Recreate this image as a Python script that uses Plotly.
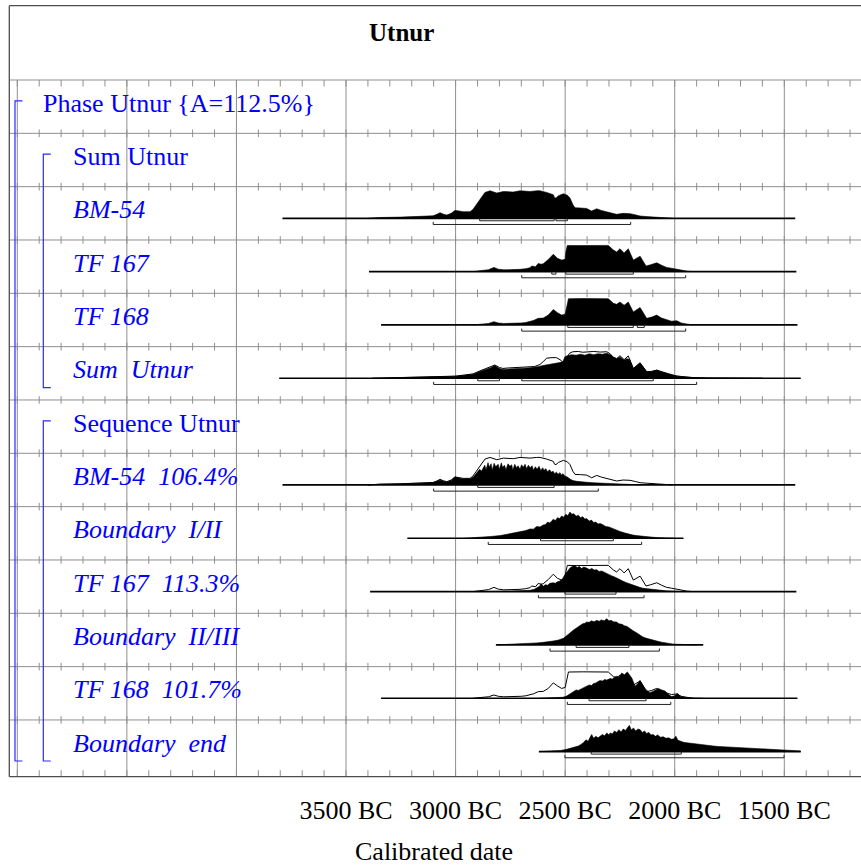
import plotly.graph_objects as go

# ------------------------------------------------------------------ data
TITLE = "Utnur"
X_TITLE = "Calibrated date"
TICK_YEARS = [-3500, -3000, -2500, -2000, -1500]
TICK_TEXT = ["3500 BC", "3000 BC", "2500 BC", "2000 BC", "1500 BC"]

ROW_LABELS = [
    "Phase Utnur {A=112.5%}",
    "Sum Utnur",
    "BM-54",
    "TF 167",
    "TF 168",
    "Sum  Utnur",
    "Sequence Utnur",
    "BM-54  106.4%",
    "Boundary  I/II",
    "TF 167  113.3%",
    "Boundary  II/III",
    "TF 168  101.7%",
    "Boundary  end",
]
ROW_ITALIC = [False, False, True, True, True, True, False,
              True, True, True, True, True, True]
ROW_INDENT = [0, 1, 1, 1, 1, 1, 1, 1, 1, 1, 1, 1, 1]

# nested model structure: (first row, last row, depth)
GROUPS = [(0, 12, 0), (1, 5, 1), (6, 12, 1)]

# probability curves: (calendar year, relative probability), BC as negative years
bm54_like = [
    (-3400, 0), (-3345, 0.8), (-3250, 1.2), (-3180, 1.6), (-3140, 1.8), (-3103, 2.5),
    (-3085, 4), (-3071, 5.7), (-3055, 4.2), (-3040, 3.3), (-3020, 5), (-3003, 8),
    (-2985, 7.5), (-2966, 6.7), (-2934, 6.7), (-2921, 9), (-2905, 14), (-2889, 19),
    (-2875, 23), (-2866, 26.3), (-2843, 28), (-2812, 25.7), (-2782, 27.3), (-2737, 26.7),
    (-2706, 28), (-2660, 27.3), (-2630, 28), (-2615, 28), (-2584, 26.3), (-2560, 25),
    (-2554, 24), (-2548, 21), (-2542, 20.7), (-2530, 23), (-2508, 25), (-2490, 23.5),
    (-2478, 20.7), (-2465, 14), (-2455, 10.7), (-2430, 10.5), (-2402, 10), (-2379, 7.3),
    (-2356, 9.7), (-2335, 8), (-2310, 6.7), (-2288, 5.2), (-2265, 4), (-2236, 5),
    (-2220, 4.8), (-2204, 4.7), (-2180, 3.5), (-2158, 2.3), (-2130, 1.8), (-2099, 1.3),
    (-2070, 0.8), (-2037, 0.3), (-2010, 0),
]
tf167_like = [
    (-2920, 0), (-2880, 0.8), (-2850, 2), (-2825, 4.3), (-2805, 2.5), (-2780, 1.8),
    (-2750, 2), (-2720, 1.8), (-2706, 2.3), (-2680, 3), (-2660, 4), (-2653, 5.7),
    (-2635, 5), (-2623, 8.3), (-2610, 7.5), (-2600, 8), (-2577, 12.3), (-2554, 17.7),
    (-2535, 13.5), (-2516, 11.7), (-2500, 12.5), (-2497, 20), (-2490, 26.7), (-2450, 26.5),
    (-2400, 26.7), (-2350, 26.3), (-2303, 26.7), (-2280, 22), (-2265, 20), (-2250, 23.3),
    (-2231, 19), (-2212, 23.3), (-2189, 11.7), (-2158, 15.7), (-2131, 5.7), (-2110, 7),
    (-2082, 9), (-2060, 6.5), (-2037, 4.3), (-2015, 3.5), (-1991, 2.3), (-1965, 1.2),
    (-1945, 0.5), (-1920, 0),
]
tf168_like = [
    (-2920, 0), (-2880, 0.5), (-2850, 1.5), (-2825, 3.3), (-2805, 2), (-2780, 1.5),
    (-2750, 1.6), (-2720, 1.5), (-2700, 2), (-2680, 2.5), (-2660, 3.3), (-2645, 4.5),
    (-2623, 6.7), (-2600, 7), (-2577, 10), (-2554, 15.7), (-2535, 12.5), (-2516, 10),
    (-2500, 11), (-2493, 20), (-2485, 26.7), (-2420, 26.9), (-2360, 26.7), (-2303, 26.7),
    (-2280, 22), (-2265, 21), (-2250, 23.3), (-2231, 20), (-2212, 23.3), (-2189, 13.3),
    (-2158, 17.7), (-2128, 6.7), (-2105, 8), (-2082, 10), (-2060, 7), (-2037, 5),
    (-2015, 3.8), (-1991, 4.3), (-1970, 2), (-1945, 1), (-1920, 0),
]
sum_like = [
    (-3380, 0), (-3300, 0.4), (-3200, 0.6), (-3100, 1), (-3050, 1.5), (-3000, 2.2),
    (-2960, 3.3), (-2920, 4.5), (-2889, 7.5), (-2860, 10), (-2843, 11.5), (-2821, 13.5),
    (-2800, 11), (-2784, 10), (-2760, 10.5), (-2721, 10.7), (-2690, 11.3), (-2660, 11.7),
    (-2640, 12), (-2615, 14), (-2600, 17), (-2584, 20.5), (-2560, 21), (-2540, 21),
    (-2520, 18.5), (-2508, 15.7), (-2495, 20), (-2480, 25.5), (-2465, 27), (-2440, 27.3),
    (-2420, 26.5), (-2400, 27), (-2370, 27.3), (-2340, 26.7), (-2310, 27), (-2295, 25),
    (-2280, 21), (-2265, 20), (-2250, 23), (-2231, 19), (-2212, 22.7), (-2189, 10),
    (-2158, 15.7), (-2128, 6.7), (-2105, 7), (-2082, 8.3), (-2060, 6.5), (-2037, 5),
    (-2015, 3.5), (-1991, 2.3), (-1960, 1.5), (-1917, 0.7), (-1850, 0.3), (-1700, 0.1),
    (-1600, 0),
]
sum_post = [
    (-3380, 0), (-3300, 0.4), (-3200, 0.6), (-3100, 1), (-3050, 1.5), (-3000, 2),
    (-2960, 3), (-2920, 4), (-2889, 7), (-2860, 9), (-2843, 10.5), (-2821, 13),
    (-2800, 10), (-2784, 9), (-2760, 9.5), (-2721, 9.7), (-2690, 10.3), (-2660, 10.7),
    (-2647, 11), (-2620, 12), (-2601, 13), (-2569, 14), (-2540, 15), (-2524, 16),
    (-2510, 17), (-2501, 22), (-2490, 23), (-2470, 24), (-2450, 23.5), (-2430, 24.5),
    (-2410, 23.5), (-2390, 25), (-2370, 24), (-2350, 25), (-2330, 24.5), (-2310, 25.6),
    (-2290, 23.5), (-2282, 22), (-2265, 20), (-2250, 21.7), (-2231, 18.5), (-2219, 20),
    (-2205, 19), (-2189, 10), (-2158, 15.7), (-2128, 6.7), (-2105, 7), (-2082, 8.3),
    (-2060, 6.5), (-2037, 5), (-2015, 3.5), (-1991, 2.3), (-1960, 1.5), (-1917, 0.7),
    (-1850, 0.3), (-1700, 0.1), (-1600, 0),
]
bm54_post = [
    (-3400, 0), (-3345, 0.7), (-3250, 1.1), (-3180, 1.5), (-3140, 1.7), (-3103, 2.3),
    (-3085, 3.8), (-3071, 5), (-3055, 3.8), (-3040, 3), (-3020, 4.5), (-3003, 8.3),
    (-2985, 7), (-2966, 6), (-2934, 6.2), (-2919, 8), (-2905, 12), (-2890, 16),
    (-2882, 14), (-2874, 17.7), (-2867, 20), (-2861, 15.5), (-2852, 22.7), (-2846, 18),
    (-2838, 21.5), (-2833, 15), (-2824, 22), (-2817, 18.5), (-2806, 21), (-2800, 16),
    (-2791, 22.5), (-2786, 18), (-2777, 20), (-2770, 15.5), (-2761, 21.5), (-2752, 19),
    (-2744, 20.5), (-2739, 15), (-2730, 21), (-2722, 17.5), (-2715, 19.5), (-2706, 16),
    (-2699, 20.5), (-2691, 18), (-2683, 21), (-2676, 16.5), (-2668, 20), (-2660, 17.5),
    (-2651, 19.5), (-2645, 15), (-2636, 18.5), (-2628, 16), (-2619, 19), (-2611, 14.5),
    (-2603, 17.5), (-2596, 15), (-2588, 16.5), (-2580, 13.5), (-2571, 15.5), (-2563, 13),
    (-2555, 14), (-2548, 11.5), (-2540, 13), (-2532, 11), (-2524, 12.5), (-2517, 10),
    (-2510, 11.5), (-2502, 9), (-2490, 8), (-2478, 6), (-2465, 4.5), (-2447, 3.7),
    (-2425, 3), (-2402, 2.7), (-2370, 2.2), (-2326, 1.7), (-2290, 1.2), (-2250, 1),
    (-2200, 0.5), (-2150, 0),
]
b12_post = [
    (-2960, 0), (-2900, 0.6), (-2873, 1), (-2840, 1.8), (-2797, 2.7), (-2760, 4.2),
    (-2740, 4.8), (-2721, 6), (-2700, 7), (-2680, 7.8), (-2660, 9.5), (-2645, 9.3),
    (-2630, 12), (-2615, 11.5), (-2600, 13.5), (-2590, 14), (-2580, 16.5), (-2570, 15.5),
    (-2560, 18), (-2554, 19.3), (-2545, 18), (-2535, 21), (-2525, 20), (-2516, 22.7),
    (-2507, 21.5), (-2497, 24.5), (-2488, 23), (-2478, 26.7), (-2470, 24.5), (-2460, 25),
    (-2450, 22.5), (-2440, 23.5), (-2430, 21), (-2420, 22), (-2410, 19.5), (-2402, 20),
    (-2390, 17.5), (-2380, 18.5), (-2370, 16), (-2360, 16.5), (-2350, 14.5), (-2340, 15),
    (-2326, 13.5), (-2315, 12), (-2300, 11.5), (-2285, 10), (-2270, 9), (-2250, 7),
    (-2230, 5.5), (-2210, 4), (-2190, 3.2), (-2174, 2.7), (-2150, 2), (-2125, 1.4),
    (-2098, 1), (-2070, 0.6), (-2040, 0.3), (-2000, 0),
]
tf167_post = [
    (-2900, 0), (-2860, 0.3), (-2830, 0.8), (-2800, 0.4), (-2750, 0.5), (-2700, 0.8),
    (-2660, 1.3), (-2640, 2.5), (-2625, 4), (-2615, 5.7), (-2610, 8), (-2600, 5.5),
    (-2590, 7), (-2580, 6.5), (-2570, 8.5), (-2554, 9), (-2545, 8.5), (-2535, 10),
    (-2524, 10.7), (-2512, 13), (-2501, 17.3), (-2490, 21), (-2478, 24), (-2468, 25.5),
    (-2455, 26.3), (-2445, 24.5), (-2435, 25.5), (-2425, 23.5), (-2415, 25), (-2402, 24),
    (-2390, 22.5), (-2378, 23.5), (-2368, 22), (-2356, 22.3), (-2345, 20.5), (-2333, 21),
    (-2321, 19.5), (-2310, 19), (-2298, 17), (-2287, 16), (-2276, 15), (-2265, 14),
    (-2250, 12), (-2235, 10.5), (-2219, 9), (-2200, 7.3), (-2187, 6.5), (-2174, 5.7),
    (-2160, 4.3), (-2143, 3.3), (-2120, 2.6), (-2098, 2), (-2070, 1.2), (-2040, 0.8),
    (-2022, 0.7), (-1990, 0.3), (-1960, 0),
]
b23_post = [
    (-2817, 0), (-2780, 0.3), (-2740, 0.5), (-2706, 1), (-2670, 1.4), (-2630, 2),
    (-2600, 2.6), (-2580, 3), (-2554, 4), (-2530, 5), (-2515, 6), (-2508, 6.7),
    (-2495, 9), (-2485, 11), (-2478, 12.3), (-2470, 14), (-2460, 15.5), (-2450, 17),
    (-2440, 19), (-2430, 20), (-2420, 21.5), (-2410, 22), (-2402, 23.3), (-2390, 23),
    (-2380, 24.5), (-2368, 23.5), (-2356, 25), (-2345, 24), (-2335, 25.5), (-2322, 24.5),
    (-2310, 26.7), (-2300, 24.5), (-2290, 25), (-2280, 23.5), (-2265, 23.3), (-2255, 21.5),
    (-2240, 21), (-2230, 19.5), (-2219, 19), (-2205, 16.5), (-2190, 14.5), (-2174, 12.3),
    (-2160, 10), (-2145, 8), (-2128, 6.7), (-2105, 5), (-2082, 4), (-2060, 2.8),
    (-2037, 1.7), (-2010, 1), (-1991, 0.7), (-1950, 0.3), (-1900, 0),
]
tf168_post = [
    (-2620, 0), (-2580, 0.4), (-2540, 0.7), (-2510, 1), (-2493, 2.3), (-2478, 4.5),
    (-2463, 7.3), (-2450, 8.5), (-2440, 8), (-2425, 10), (-2415, 11), (-2402, 12.3),
    (-2390, 13.5), (-2380, 13), (-2370, 15), (-2360, 15.5), (-2350, 17), (-2341, 18),
    (-2330, 17.5), (-2320, 19), (-2310, 18.5), (-2295, 20), (-2285, 19.5), (-2275, 21.5),
    (-2265, 22.3), (-2255, 21.5), (-2242, 25.7), (-2230, 24), (-2216, 26.7), (-2205, 24),
    (-2196, 20.7), (-2181, 12.3), (-2170, 14.5), (-2158, 18), (-2148, 14), (-2136, 10),
    (-2125, 7.5), (-2113, 5.7), (-2095, 7.5), (-2075, 10), (-2060, 8.5), (-2044, 7.3),
    (-2030, 4), (-2014, 1.7), (-2000, 2.5), (-1988, 5), (-1975, 2), (-1961, 1),
    (-1940, 0.5), (-1900, 0.2), (-1870, 0),
]
bend_post = [
    (-2618, 0), (-2580, 0.4), (-2540, 0.8), (-2520, 1.2), (-2493, 2.3), (-2470, 3.5),
    (-2450, 4.5), (-2440, 5.7), (-2430, 7), (-2417, 9), (-2405, 12), (-2395, 10.5),
    (-2385, 15), (-2379, 17.3), (-2370, 13.5), (-2360, 15.5), (-2350, 14), (-2341, 15.7),
    (-2330, 17.5), (-2320, 16), (-2310, 19), (-2300, 17), (-2295, 19), (-2285, 18),
    (-2275, 21), (-2265, 19.5), (-2255, 22.3), (-2245, 20), (-2235, 23), (-2225, 21.5),
    (-2215, 24), (-2207, 26.7), (-2198, 22), (-2188, 24), (-2178, 21), (-2168, 23),
    (-2158, 22.3), (-2148, 19.5), (-2138, 21), (-2128, 18.5), (-2118, 19.5), (-2108, 17),
    (-2098, 17.3), (-2088, 15.5), (-2078, 17), (-2065, 14.7), (-2052, 15), (-2040, 13.5),
    (-2028, 14), (-2015, 12.5), (-2003, 13), (-1995, 15.7), (-1985, 11.5), (-1976, 10.7),
    (-1960, 9.5), (-1945, 9), (-1930, 8.5), (-1915, 8), (-1895, 7.3), (-1875, 6.8),
    (-1850, 6.2), (-1824, 5.7), (-1800, 5.2), (-1770, 4.8), (-1740, 4.3), (-1717, 4),
    (-1690, 3.7), (-1660, 3.4), (-1640, 3.2), (-1611, 3), (-1580, 2.6), (-1550, 2.3),
    (-1520, 2), (-1489, 1.7), (-1460, 1.2), (-1428, 0.7), (-1424, 0),
]

# row -> (filled posterior, outlined likelihood)
ROW_CURVES = {
    2: (bm54_like, None),
    3: (tf167_like, None),
    4: (tf168_like, None),
    5: (sum_post, sum_like),
    7: (bm54_post, bm54_like),
    8: (b12_post, None),
    9: (tf167_post, tf167_like),
    10: (b23_post, None),
    11: (tf168_post, tf168_like),
    12: (bend_post, None),
}
# calendar span over which each distribution was evaluated
ROW_SPAN = {
    2: (-3790, -1450), 3: (-3395, -1445), 4: (-3340, -1440), 5: (-3805, -1425),
    7: (-3790, -1450), 8: (-3220, -1960), 9: (-3390, -1445), 10: (-2815, -1870),
    11: (-3340, -1440), 12: (-2620, -1425),
}
# highest posterior density ranges
RANGE_68 = {
    2: [(-2890, -2550), (-2542, -2490)],
    3: [(-2561, -2542), (-2497, -2189)],
    4: [(-2488, -2189), (-2171, -2139)],
    5: [(-2899, -2800), (-2698, -2098)],
    7: [(-2899, -2550)],
    8: [(-2612, -2280)],
    9: [(-2501, -2268)],
    10: [(-2450, -2209)],
    11: [(-2391, -2131)],
    12: [(-2381, -1970)],
}
RANGE_95 = {
    2: [(-3102, -2201)],
    3: [(-2698, -1950)],
    4: [(-2698, -1950)],
    5: [(-3100, -1900)],
    7: [(-3100, -2349)],
    8: [(-2851, -2151)],
    9: [(-2622, -2140)],
    10: [(-2569, -2070)],
    11: [(-2490, -2018)],
    12: [(-2501, -1501)],
}

# ------------------------------------------------------------------ layout
FIG_W, FIG_H = 861, 867
M_L, M_R, M_T, M_B = 5, 0, 76, 86
PLOT_W = FIG_W - M_L - M_R
PLOT_H = FIG_H - M_T - M_B
PX_PER_YEAR = 0.219143
ROW_PX = 53.33
GRID_TOP_PX = 80.0
FRAME_X_PX = 9.3
X0 = -5000 - (17.3 - M_L) / PX_PER_YEAR
X1 = X0 + PLOT_W / PX_PER_YEAR
Y_TOP = (M_T - GRID_TOP_PX) / ROW_PX
Y_BOT = Y_TOP + PLOT_H / ROW_PX
N_ROWS = len(ROW_LABELS)
Y_AXIS = (776.7 - GRID_TOP_PX) / ROW_PX

BASE_OFF = 0.593          # baseline inside a row (fraction from its top)
PEAK = 27.5 / ROW_PX      # tallest curve, in rows
VMAX = max(v for c in ROW_CURVES.values() for s in c if s for _, v in s)
SCALE = PEAK / VMAX

FONT = "Liberation Serif, Times New Roman, serif"
FS = 26
BLUE = "#0000ff"
BRACKET_BLUE = "#2a2aff"
GRID = "#8f8f8f"
FRAME = "#4d4d4d"


def year_at(px):
    return X0 + (px - M_L) / PX_PER_YEAR


def paper_x(px):
    return (px - M_L) / PLOT_W


def paper_y(py):
    return (FIG_H - M_B - py) / PLOT_H


XF = year_at(FRAME_X_PX)

fig = go.Figure()

# vertical grid every 500 years and row separators
gx, gy = [], []
for yr in range(-5000, int(X1) + 1, 500):
    gx += [yr, yr, None]
    gy += [0, Y_AXIS, None]
for k in range(N_ROWS):
    gx += [XF, X1, None]
    gy += [k, k, None]
fig.add_trace(go.Scatter(x=gx, y=gy, mode="lines", line=dict(color=GRID, width=1),
                         hoverinfo="skip", showlegend=False))

# century ticks on every separator
T_IN = 3.8 / ROW_PX
T_EDGE = 6.5 / ROW_PX
tx, ty = [], []
for k in range(N_ROWS + 1):
    y = k if k < N_ROWS else Y_AXIS
    up = 0 if k == 0 else (T_EDGE if k == N_ROWS else T_IN)
    dn = T_EDGE if k == 0 else (0 if k == N_ROWS else T_IN)
    for yr in range(-5000, int(X1) + 1, 100):
        tx += [yr, yr, None]
        ty += [y - up, y + dn, None]
fig.add_trace(go.Scatter(x=tx, y=ty, mode="lines", line=dict(color=GRID, width=1),
                         hoverinfo="skip", showlegend=False))

# bottom axis line
fig.add_trace(go.Scatter(x=[XF, X1], y=[Y_AXIS, Y_AXIS], mode="lines",
                         line=dict(color=FRAME, width=1.3), hoverinfo="skip",
                         showlegend=False))

# model structure brackets
for first, last, depth in GROUPS:
    bx = year_at(15.0 + 28.3 * depth)
    sx = year_at(22.5 + 28.3 * depth)
    top = first + 0.39
    bot = last + 0.77
    fig.add_trace(go.Scatter(x=[sx, bx, bx, sx], y=[top, top, bot, bot], mode="lines",
                             line=dict(color=BRACKET_BLUE, width=1.2), hoverinfo="skip",
                             showlegend=False))

# distributions
for row, (post, like) in ROW_CURVES.items():
    base = row + BASE_OFF
    a, b = ROW_SPAN[row]
    fig.add_trace(go.Scatter(x=[a, b], y=[base, base], mode="lines",
                             line=dict(color="black", width=1.7), hoverinfo="skip",
                             showlegend=False))
    px_ = [post[0][0]] + [t for t, _ in post] + [post[-1][0]]
    py_ = [base] + [base - v * SCALE for _, v in post] + [base]
    fig.add_trace(go.Scatter(x=px_, y=py_, mode="lines", fill="toself",
                             fillcolor="black", line=dict(color="black", width=0.6),
                             hoverinfo="skip", showlegend=False))
    if like:
        fig.add_trace(go.Scatter(x=[t for t, _ in like],
                                 y=[base - v * SCALE for _, v in like], mode="lines",
                                 line=dict(color="black", width=1), hoverinfo="skip",
                                 showlegend=False))
    # range brackets
    for ranges, off in ((RANGE_68.get(row, []), 2.5), (RANGE_95.get(row, []), 6.2)):
        yb = base + off / ROW_PX
        ye = yb - 2.6 / ROW_PX
        rx, ry = [], []
        for lo, hi in ranges:
            rx += [lo, lo, hi, hi, None]
            ry += [ye, yb, yb, ye, None]
        fig.add_trace(go.Scatter(x=rx, y=ry, mode="lines",
                                 line=dict(color="#222222", width=1), hoverinfo="skip",
                                 showlegend=False))

# row labels
annotations = []
for k, (lab, it, ind) in enumerate(zip(ROW_LABELS, ROW_ITALIC, ROW_INDENT)):
    txt = lab.replace("  ", " \u00a0")
    if it:
        txt = f"<i>{txt}</i>"
    annotations.append(dict(
        x=paper_x(41.0 + 30 * ind), xref="paper", y=k + 0.436, yref="y",
        text=txt, showarrow=False, xanchor="left", yanchor="middle",
        font=dict(family=FONT, size=FS, color=BLUE)))

annotations.append(dict(
    x=paper_x(401), xref="paper", y=paper_y(32.5), yref="paper",
    text=f"<b>{TITLE}</b>", showarrow=False, xanchor="center", yanchor="middle",
    font=dict(family=FONT, size=25, color="black")))
annotations.append(dict(
    x=paper_x(434), xref="paper", y=paper_y(851.5), yref="paper",
    text=X_TITLE, showarrow=False, xanchor="center", yanchor="middle",
    font=dict(family=FONT, size=FS, color="black")))

# outer frame: left edge and top of the title box
shapes = [
    dict(type="line", xref="paper", yref="paper", x0=paper_x(FRAME_X_PX),
         x1=paper_x(FRAME_X_PX), y0=paper_y(776.7), y1=paper_y(5.7),
         line=dict(color=FRAME, width=1.3)),
    dict(type="line", xref="paper", yref="paper", x0=paper_x(FRAME_X_PX), x1=1.0,
         y0=paper_y(5.7), y1=paper_y(5.7), line=dict(color=FRAME, width=1.3)),
]

fig.update_layout(
    width=FIG_W, height=FIG_H,
    margin=dict(l=M_L, r=M_R, t=M_T, b=M_B, autoexpand=False),
    paper_bgcolor="white", plot_bgcolor="white",
    showlegend=False,
    annotations=annotations,
    shapes=shapes,
    xaxis=dict(range=[X0, X1], tickvals=TICK_YEARS, ticktext=TICK_TEXT,
               showgrid=False, zeroline=False, showline=False, ticks="",
               ticklabelstandoff=11, automargin=False,
               tickfont=dict(family=FONT, size=FS, color="black"), fixedrange=True),
    yaxis=dict(range=[Y_BOT, Y_TOP], showgrid=False, zeroline=False, showline=False,
               showticklabels=False, ticks="", automargin=False, fixedrange=True),
)

fig.write_html("out.html")
